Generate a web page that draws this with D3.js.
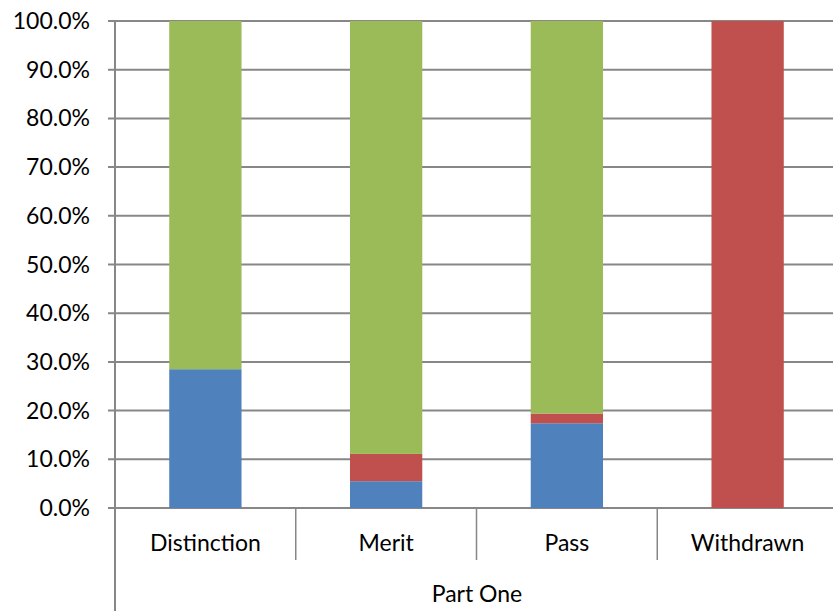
<!DOCTYPE html>
<html>
<head>
<meta charset="utf-8">
<script src="https://cdn.jsdelivr.net/npm/d3@7/dist/d3.min.js"></script>
<style>
  html, body { margin: 0; padding: 0; background: #fff; }
  svg { display: block; }
  text { font-family: Lato, "Open Sans", sans-serif; fill: #000; }
</style>
</head>
<body>
<svg id="chart" width="833" height="611"></svg>
<script>
// Outcome categories and group label
const categories = ["Distinction", "Merit", "Pass", "Withdrawn"];
const groupLabel = "Part One";

// Stacked shares (percent) per series, bottom to top
const seriesNames = ["Blue", "Red", "Green"];
const blueValues  = [28.5, 5.5, 17.4, 0];
const redValues   = [0, 5.6, 2.0, 100];
const greenValues = [71.5, 88.9, 80.6, 0];
const seriesColors = ["#4F81BD", "#C0504D", "#9BBB59"];

const yTicks = [0, 10, 20, 30, 40, 50, 60, 70, 80, 90, 100];

const svg = d3.select("#chart");
const plotLeft = 115, plotRight = 838, plotTop = 21, plotBottom = 508;
const fontSize = 23;

const x = d3.scaleBand().domain(categories).range([plotLeft, plotRight]).paddingInner(0.6).paddingOuter(0.3);
const bandX = d3.scaleBand().domain(categories).range([plotLeft, plotRight]);
const y = d3.scaleLinear().domain([0, 100]).range([plotBottom, plotTop]);

const rows = categories.map((c, i) => ({
  cat: c, Blue: blueValues[i], Red: redValues[i], Green: greenValues[i]
}));
const stack = d3.stack().keys(seriesNames)(rows);

const gridColor = "#878787";

// Horizontal gridlines
svg.append("g").selectAll("line").data(yTicks).join("line")
  .attr("x1", plotLeft - 7).attr("x2", 833)
  .attr("y1", d => y(d)).attr("y2", d => y(d))
  .attr("stroke", gridColor).attr("stroke-width", 2);

// Stacked bars
svg.append("g").selectAll("g").data(stack).join("g")
  .attr("fill", (d, i) => seriesColors[i])
  .selectAll("rect").data(d => d).join("rect")
  .attr("x", d => x(d.data.cat))
  .attr("width", x.bandwidth())
  .attr("y", d => y(d[1]))
  .attr("height", d => y(d[0]) - y(d[1]));

// Y axis labels
svg.append("g").selectAll("text").data(yTicks).join("text")
  .attr("x", 90).attr("y", d => y(d))
  .attr("dy", "0.35em")
  .attr("text-anchor", "end")
  .attr("font-size", fontSize)
  .text(d => d3.format(".1f")(d) + "%");

// Vertical axis line
svg.append("line")
  .attr("x1", plotLeft).attr("x2", plotLeft)
  .attr("y1", plotTop).attr("y2", 611)
  .attr("stroke", gridColor).attr("stroke-width", 2);

// Category separators
svg.append("g").selectAll("line").data(categories.slice(1)).join("line")
  .attr("x1", d => bandX(d)).attr("x2", d => bandX(d))
  .attr("y1", plotBottom).attr("y2", 560)
  .attr("stroke", gridColor).attr("stroke-width", 1.5);

// Category labels
svg.append("g").selectAll("text").data(categories).join("text")
  .attr("x", d => bandX(d) + bandX.bandwidth() / 2)
  .attr("y", 543).attr("dy", "0.35em")
  .attr("text-anchor", "middle")
  .attr("font-size", fontSize)
  .text(d => d);

// Group label
svg.append("text")
  .attr("x", (plotLeft + plotRight) / 2 + 0.5).attr("y", 594).attr("dy", "0.35em")
  .attr("text-anchor", "middle")
  .attr("font-size", fontSize)
  .text(groupLabel);
</script>
</body>
</html>
